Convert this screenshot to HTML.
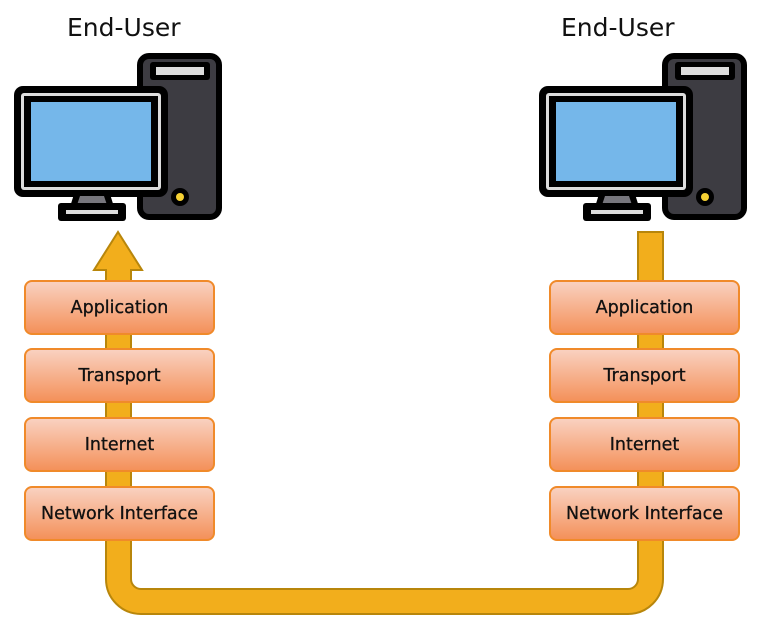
<!DOCTYPE html>
<html><head><meta charset="utf-8"><style>
html,body{margin:0;padding:0;background:#fff;}
body{width:780px;height:623px;overflow:hidden;position:relative;font-family:"DejaVu Sans","Liberation Sans",sans-serif;}
.t{position:absolute;font-size:25px;color:#111;top:13px;}
.b{position:absolute;width:187px;height:51px;border:2px solid #f08a2a;border-radius:8px;background:linear-gradient(#f9d1c0,#f4915a);font-size:17.5px;color:#111;display:flex;align-items:center;justify-content:center;box-sizing:content-box;-webkit-text-stroke:0.3px #111;}
</style></head><body>
<svg width="780" height="623" style="position:absolute;left:0;top:0">
<defs>
<g id="pc">
<rect x="140" y="56" width="79" height="161" rx="9" fill="#3d3c42" stroke="#000" stroke-width="6"/>
<rect x="150" y="62" width="60" height="18" rx="3" fill="#000"/>
<rect x="156" y="67" width="48" height="8" fill="#ddd"/>
<circle cx="180" cy="197" r="9" fill="#000"/>
<circle cx="180" cy="197" r="4" fill="#f5d033"/>
<rect x="14" y="86" width="154" height="111" rx="9" fill="#000"/>
<rect x="21" y="93" width="140" height="97" rx="3" fill="#ddd"/>
<rect x="24" y="96" width="134" height="91" fill="#000"/>
<rect x="31" y="102" width="120" height="79" fill="#75b7ea"/>
<polygon points="74,194 110,194 114,207 70,207" fill="#000"/>
<polygon points="80,196 104,196 107,205 77,205" fill="#77767d"/>
<rect x="58" y="203" width="68" height="18" rx="3" fill="#000"/>
<rect x="66" y="210" width="52" height="4" fill="#ddd"/>
</g>
</defs>
<use href="#pc"/>
<use href="#pc" transform="translate(525,0)"/>
<path d="M118,232 L142,270 H131 V579 A10,10 0 0 0 141,589 H628 A10,10 0 0 0 638,579 V232 H663 V579 A35,35 0 0 1 628,614 H141 A35,35 0 0 1 106,579 V270 H94 Z" fill="#f2ae1c" stroke="#b8860b" stroke-width="2" stroke-linejoin="miter"/>
</svg>
<div class="t" style="left:67px">End-User</div>
<div class="t" style="left:561px">End-User</div>
<div class="b" style="left:24px;top:280px">Application</div>
<div class="b" style="left:24px;top:348px">Transport</div>
<div class="b" style="left:24px;top:417px">Internet</div>
<div class="b" style="left:24px;top:486px">Network Interface</div>
<div class="b" style="left:549px;top:280px">Application</div>
<div class="b" style="left:549px;top:348px">Transport</div>
<div class="b" style="left:549px;top:417px">Internet</div>
<div class="b" style="left:549px;top:486px">Network Interface</div>
</body></html>
